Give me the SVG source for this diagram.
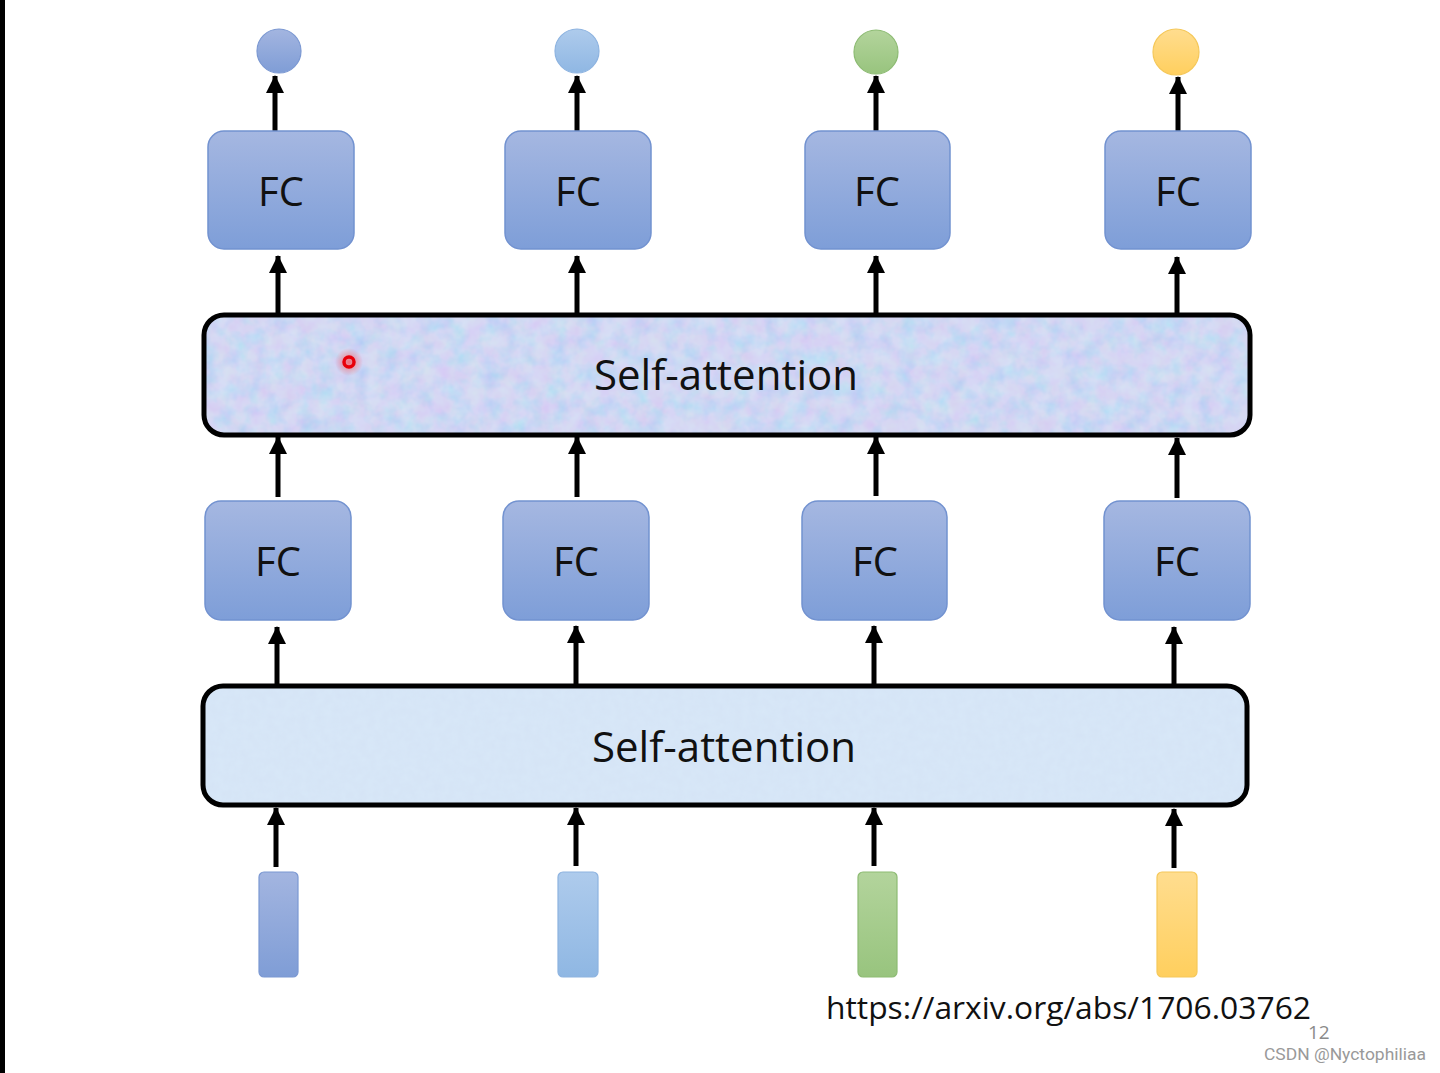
<svg xmlns="http://www.w3.org/2000/svg" width="1440" height="1073" viewBox="0 0 1440 1073">
<defs>
<linearGradient id="gFC" x1="0" y1="0" x2="0" y2="1"><stop offset="0" stop-color="#A5B7E1"/><stop offset="1" stop-color="#7E9ED8"/></linearGradient>
<linearGradient id="gB1" x1="0" y1="0" x2="0" y2="1"><stop offset="0" stop-color="#A3B5E0"/><stop offset="1" stop-color="#7F9DD6"/></linearGradient>
<linearGradient id="gB2" x1="0" y1="0" x2="0" y2="1"><stop offset="0" stop-color="#AECBEC"/><stop offset="1" stop-color="#8FB7E3"/></linearGradient>
<linearGradient id="gG" x1="0" y1="0" x2="0" y2="1"><stop offset="0" stop-color="#B3D49C"/><stop offset="1" stop-color="#98C47E"/></linearGradient>
<linearGradient id="gY" x1="0" y1="0" x2="0" y2="1"><stop offset="0" stop-color="#FFDD8F"/><stop offset="1" stop-color="#FFCF5E"/></linearGradient>
<filter id="tex1" x="0" y="0" width="1" height="1">
<feTurbulence type="fractalNoise" baseFrequency="0.06" numOctaves="3" seed="5" result="n"/>
<feColorMatrix in="n" type="matrix" values="1.2 0 0 0 0.25  0 0.6 0 0 0.5  0 0 0.2 0 0.85  0 0 0 0 0.35" result="c"/>
<feComposite in="c" in2="SourceGraphic" operator="in" result="cc"/>
<feMerge><feMergeNode in="SourceGraphic"/><feMergeNode in="cc"/></feMerge>
</filter>
<filter id="tex2" x="0" y="0" width="1" height="1">
<feTurbulence type="fractalNoise" baseFrequency="0.12" numOctaves="3" seed="9" result="n"/>
<feColorMatrix in="n" type="matrix" values="0 0 0 0 0.70  0 0 0 0 0.82  0 0 0 0 0.95  0 0 0 0.8 -0.1" result="c"/>
<feComposite in="c" in2="SourceGraphic" operator="in" result="cc"/>
<feMerge><feMergeNode in="SourceGraphic"/><feMergeNode in="cc"/></feMerge>
</filter>
<radialGradient id="glow"><stop offset="0" stop-color="#FF3030" stop-opacity="0.6"/><stop offset="1" stop-color="#FF3030" stop-opacity="0"/></radialGradient>
<marker id="ah" markerUnits="userSpaceOnUse" markerWidth="18" markerHeight="20" refX="17" refY="9" orient="auto">
<path d="M0,0 L18,9 L0,18 Z" fill="#000"/>
</marker>
<style>
.fc{fill:url(#gFC);stroke:#7292D0;stroke-width:1.5}
.lbl{font-family:"Open Sans","Noto Sans","Liberation Sans",sans-serif;font-size:40px;fill:#111;text-anchor:middle}
.sa{stroke:#000;stroke-width:5;fill:none}
.ar{stroke:#000;stroke-width:5;fill:none;marker-end:url(#ah)}
</style>
</defs>
<rect width="1440" height="1073" fill="#fff"/>
<rect x="0" y="0" width="5" height="1073" fill="#000"/>

<g id="connectors">
<line class="ar" x1="275" y1="131" x2="275" y2="76"/>
<line class="ar" x1="577" y1="131" x2="577" y2="76"/>
<line class="ar" x1="876" y1="131" x2="876" y2="76"/>
<line class="ar" x1="1178" y1="131" x2="1178" y2="77"/>
<line class="ar" x1="278" y1="314" x2="278" y2="256"/>
<line class="ar" x1="577" y1="314" x2="577" y2="256"/>
<line class="ar" x1="876" y1="314" x2="876" y2="256"/>
<line class="ar" x1="1177" y1="314" x2="1177" y2="257"/>
<line class="ar" x1="278" y1="497" x2="278" y2="437"/>
<line class="ar" x1="577" y1="497" x2="577" y2="437"/>
<line class="ar" x1="876" y1="496" x2="876" y2="437"/>
<line class="ar" x1="1177" y1="498" x2="1177" y2="438"/>
<line class="ar" x1="277" y1="685" x2="277" y2="627"/>
<line class="ar" x1="576" y1="685" x2="576" y2="626"/>
<line class="ar" x1="874" y1="685" x2="874" y2="626"/>
<line class="ar" x1="1174" y1="685" x2="1174" y2="627"/>
<line class="ar" x1="276" y1="867" x2="276" y2="808"/>
<line class="ar" x1="576" y1="866" x2="576" y2="808"/>
<line class="ar" x1="874" y1="866" x2="874" y2="808"/>
<line class="ar" x1="1174" y1="868" x2="1174" y2="809"/>
</g>

<g id="out1"><circle cx="279" cy="51" r="22" fill="url(#gB1)" stroke="#7B98D2" stroke-width="1.2"/></g>
<g id="out2"><circle cx="577" cy="51" r="22" fill="url(#gB2)" stroke="#8DB3E0" stroke-width="1.2"/></g>
<g id="out3"><circle cx="876" cy="52" r="22" fill="url(#gG)" stroke="#8DBB73" stroke-width="1.2"/></g>
<g id="out4"><circle cx="1176" cy="52" r="23" fill="url(#gY)" stroke="#F5C85A" stroke-width="1.2"/></g>

<g id="fcTop1"><rect class="fc" x="208" y="131" width="146" height="118" rx="16"/><text class="lbl" x="281" y="206">FC</text></g>
<g id="fcTop2"><rect class="fc" x="505" y="131" width="146" height="118" rx="16"/><text class="lbl" x="578" y="206">FC</text></g>
<g id="fcTop3"><rect class="fc" x="805" y="131" width="145" height="118" rx="16"/><text class="lbl" x="877" y="206">FC</text></g>
<g id="fcTop4"><rect class="fc" x="1105" y="131" width="146" height="118" rx="16"/><text class="lbl" x="1178" y="206">FC</text></g>

<g id="saTop">
<rect x="204" y="315" width="1046" height="120" rx="20" fill="#BCCEF0" filter="url(#tex1)"/>
<rect class="sa" x="204" y="315" width="1046" height="120" rx="20"/>
<text class="lbl" x="726" y="390" style="font-size:42px">Self-attention</text>
</g>
<g id="pointer"><circle cx="349" cy="362" r="14" fill="url(#glow)"/><circle cx="349" cy="362" r="5" fill="none" stroke="#E8000A" stroke-width="3.5"/></g>

<g id="fcBot1"><rect class="fc" x="205" y="501" width="146" height="119" rx="16"/><text class="lbl" x="278" y="576">FC</text></g>
<g id="fcBot2"><rect class="fc" x="503" y="501" width="146" height="119" rx="16"/><text class="lbl" x="576" y="576">FC</text></g>
<g id="fcBot3"><rect class="fc" x="802" y="501" width="145" height="119" rx="16"/><text class="lbl" x="875" y="576">FC</text></g>
<g id="fcBot4"><rect class="fc" x="1104" y="501" width="146" height="119" rx="16"/><text class="lbl" x="1177" y="576">FC</text></g>

<g id="saBot">
<rect x="203" y="686" width="1044" height="119" rx="20" fill="#D5E4F6" filter="url(#tex2)"/>
<rect class="sa" x="203" y="686" width="1044" height="119" rx="20"/>
<text class="lbl" x="724" y="762" style="font-size:42px">Self-attention</text>
</g>

<g id="in1"><rect x="259" y="872" width="39" height="105" rx="5" fill="url(#gB1)" stroke="#7B98D2" stroke-width="1.2"/></g>
<g id="in2"><rect x="558" y="872" width="40" height="105" rx="5" fill="url(#gB2)" stroke="#8DB3E0" stroke-width="1.2"/></g>
<g id="in3"><rect x="858" y="872" width="39" height="105" rx="5" fill="url(#gG)" stroke="#8DBB73" stroke-width="1.2"/></g>
<g id="in4"><rect x="1157" y="872" width="40" height="105" rx="5" fill="url(#gY)" stroke="#F5C85A" stroke-width="1.2"/></g>

<text x="826" y="1019" font-family="Open Sans, Noto Sans, Liberation Sans, sans-serif" font-size="31" fill="#111" textLength="485" lengthAdjust="spacingAndGlyphs">https://arxiv.org/abs/1706.03762</text>
<text x="1308" y="1039" font-family="Open Sans, Liberation Sans, sans-serif" font-size="19" fill="#8A8A8A">12</text>
<text x="1264" y="1060" font-family="Liberation Sans Narrow, Roboto, Liberation Sans, sans-serif" font-size="16" fill="#999" textLength="162" lengthAdjust="spacingAndGlyphs">CSDN @Nyctophiliaa</text>
</svg>
